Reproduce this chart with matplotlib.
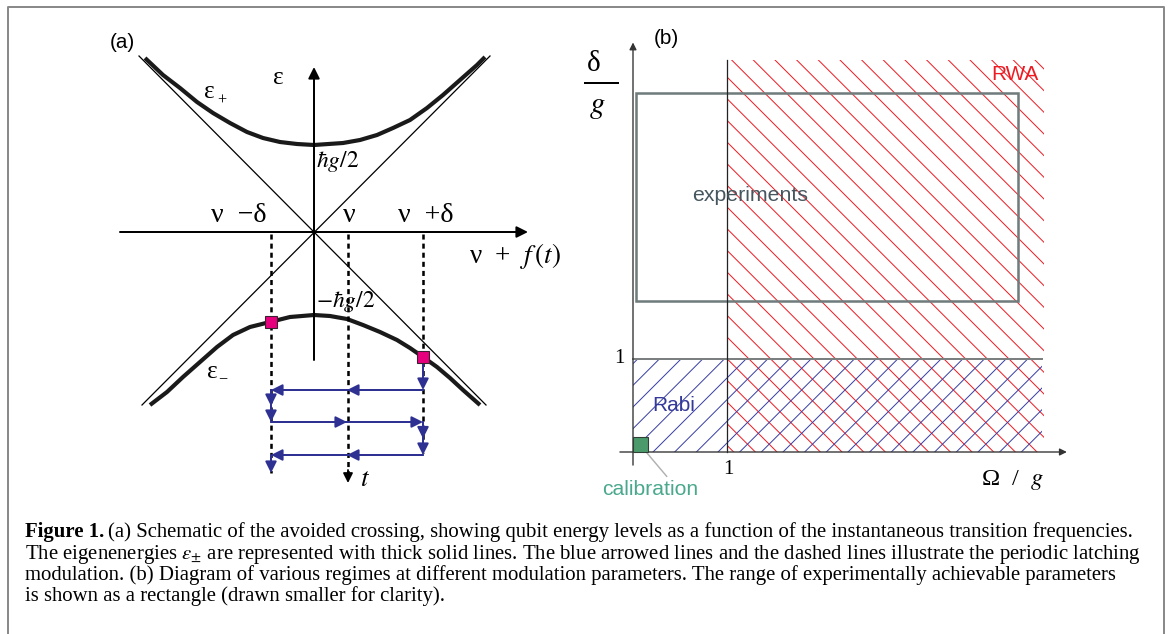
import numpy as np
import matplotlib.pyplot as plt
from matplotlib.lines import Line2D
from matplotlib.patches import Rectangle

plt.rcParams['mathtext.fontset'] = 'stix'
plt.rcParams['hatch.linewidth'] = 0.55

W, H, DPI = 1168, 634, 130
SERIF = 'Liberation Serif'
SANS = 'Liberation Sans'

# ---------------- panel (a): energy levels (arbitrary units, crossing at 0,0)
up_x = [-169, -151, -134, -117, -101, -84, -67, -51, -34, -17, 0,
        29, 46, 63, 79, 96, 113, 129, 146, 163, 171]
up_e = [174, 157, 144, 130, 119, 109, 100, 94, 90, 88, 87,
        89, 92, 97, 104, 112, 124, 137, 152, 167, 175]
lo_x = [-164, -147, -131, -114, -97, -81, -64, -44, -24, 0,
        16, 33, 49, 66, 83, 96, 109, 123, 136, 149, 166]
lo_e = [-173, -160, -145, -130, -115, -103, -95, -90, -85, -83,
        -84, -87, -93, -100, -108, -116, -125, -135, -146, -158, -173]
asym_a = ([-175, 172], [176, -173])
asym_b = ([-172, 176], [-173, 176])
freqs = [-43, 34, 109]            # nu - delta, nu, nu + delta
freq_labels = ['ν  −δ', 'ν', 'ν  +δ']
dash_end = [-241, -241, -221]
latch_x = [-43, 109]
latch_e = [-90, -125]
path_x = [109, 109, -43, -43, 109, 109, -43, -43]
path_y = [-125, -158, -158, -190, -190, -223, -223, -241]
mid_heads = [False, True, True, True, True, True, False]

# ---------------- panel (b): regimes in (Omega/g, delta/g)
rwa_region = (1.0, 0.0, 4.4, 4.19)      # x0, y0, x1, y1
rabi_region = (0.0, 0.0, 4.37, 1.0)
exp_region = (0.03, 1.62, 4.12, 3.84)
calib_size = 0.16

caption = [
    "(a) Schematic of the avoided crossing, showing qubit energy levels as a function of the instantaneous transition frequencies.",
    "The eigenenergies $\\epsilon_{\\pm}$ are represented with thick solid lines. The blue arrowed lines and the dashed lines illustrate the periodic latching",
    "modulation. (b) Diagram of various regimes at different modulation parameters. The range of experimentally achievable parameters",
    "is shown as a rectangle (drawn smaller for clarity).",
]

BLUE = '#2e3192'
RED = '#ed1c24'


def arrow(ax, p0, p1, color, lw, ms):
    ax.annotate('', xy=p1, xytext=p0,
                arrowprops=dict(arrowstyle='-|>', color=color, lw=lw,
                                mutation_scale=ms, shrinkA=0, shrinkB=0))


fig = plt.figure(figsize=(W / DPI, H / DPI), dpi=DPI)

# frame around the figure
fig.add_artist(Line2D([8.3 / W, 8.3 / W, 1164 / W, 1164 / W],
                      [0, 1 - 6.7 / H, 1 - 6.7 / H, 0],
                      transform=fig.transFigure, color='#8a8a8a', lw=1.1))

# ---------------- panel (a)
ax = fig.add_axes([90 / W, 1 - 500 / H, 480 / W, 480 / H])
ax.set_xlim(90 - 314, 570 - 314)
ax.set_ylim(232 - 500, 232 - 20)
ax.axis('off')

ax.plot(*asym_a, color='k', lw=0.7)
ax.plot(*asym_b, color='k', lw=0.7)
arrow(ax, (-194, 0), (214, 0), 'k', 1.1, 13)
arrow(ax, (0, -128), (0, 165), 'k', 1.1, 13)
ax.plot(up_x, up_e, color='#1a1a1a', lw=2.3, solid_capstyle='butt',
        solid_joinstyle='round')
ax.plot(lo_x, lo_e, color='#1a1a1a', lw=2.3, solid_capstyle='butt',
        solid_joinstyle='round')

for f, end in zip(freqs, dash_end):
    ax.plot([f, f], [-2, end], color='k', lw=1.4, ls=(0, (2, 1.6)))
for lab, lx in zip(freq_labels, [-75, 35, 112]):
    ax.text(lx, 17, lab, family=SERIF, fontsize=15.5, ha='center', va='center')
arrow(ax, (freqs[1], -238), (freqs[1], -251), 'k', 1.0, 11)

for i in range(len(path_x) - 1):
    p0 = (path_x[i], path_y[i])
    p1 = (path_x[i + 1], path_y[i + 1])
    if mid_heads[i]:
        arrow(ax, p0, ((p0[0] + p1[0]) / 2, (p0[1] + p1[1]) / 2), BLUE, 1.1, 13)
    arrow(ax, p0, p1, BLUE, 1.1, 13)

ax.plot(latch_x, latch_e, ls='none', marker='s', ms=6.5, mfc='#e6007e',
        mec='#3a2030', mew=0.6, zorder=5)

ax.text(-192, 189, '(a)', family=SANS, fontsize=11.5, ha='center', va='center')
ax.text(-36, 154, 'ε', family=SERIF, fontsize=14, ha='center', va='center')
ax.text(-105, 140, 'ε', family=SERIF, fontsize=14, ha='center', va='center')
ax.text(-92, 131, '+', family=SERIF, fontsize=9, ha='center', va='center')
ax.text(-102, -140, 'ε', family=SERIF, fontsize=14, ha='center', va='center')
ax.text(-91, -148, '−', family=SERIF, fontsize=9, ha='center', va='center')
ax.text(2, 71, '$\\hbar g/2$', fontsize=13, ha='left', va='center')
ax.text(2, -69, '$-\\hbar g/2$', fontsize=13, ha='left', va='center')
ax.text(201, -24, 'ν  +  $f\\,(t)$', family=SERIF, fontsize=15, ha='center',
        va='center')
ax.text(51, -247, '$t$', fontsize=15, ha='center', va='center')

# ---------------- panel (b)
s = 93.5
bx = fig.add_axes([570 / W, 1 - 510 / H, 530 / W, 485 / H])
bx.set_xlim((570 - 633) / s, (1100 - 633) / s)
bx.set_ylim((452 - 510) / s, (452 - 25) / s)
bx.axis('off')

x0, y0, x1, y1 = rwa_region
bx.add_patch(Rectangle((x0, y0), x1 - x0, y1 - y0, fill=False, lw=0,
                       edgecolor=RED, hatch='\\\\'))
x0, y0, x1, y1 = rabi_region
bx.add_patch(Rectangle((x0, y0), x1 - x0, y1 - y0, fill=False, lw=0,
                       edgecolor='#3b3fa5', hatch='//'))
bx.plot([x0, x1], [y1, y1], color='#7a7f80', lw=1.1)
bx.plot([rwa_region[0]] * 2, [0, rwa_region[3]], color='#222222', lw=0.7)
x0, y0, x1, y1 = exp_region
bx.add_patch(Rectangle((x0, y0), x1 - x0, y1 - y0, fill=False, lw=1.4,
                       edgecolor='#707c7c'))
bx.add_patch(Rectangle((0, 0), calib_size, calib_size, facecolor='#4b9a6c',
                       edgecolor='#2f3f35', lw=0.6, zorder=4))

arrow(bx, (-0.14, 0), (4.64, 0), '#333333', 0.75, 8)
arrow(bx, (0, -0.14), (0, 4.38), '#333333', 0.75, 8)

bx.plot([0.36, 0.09], [-0.26, 0.06], color='#b0b0b0', lw=0.8)
bx.text(0.18, -0.40, 'calibration', family=SANS, fontsize=11.7,
        color='#4aa88c', ha='center', va='center')
bx.text(4.09, 4.04, 'RWA', family=SANS, fontsize=11.5, color=RED,
        ha='center', va='center')
bx.text(1.25, 2.74, 'experiments', family=SANS, fontsize=11.8,
        color='#46565e', ha='center', va='center')
bx.text(0.44, 0.50, 'Rabi', family=SANS, fontsize=11.6, color='#353a9a',
        ha='center', va='center')
bx.text(0.36, 4.42, '(b)', family=SANS, fontsize=11.5, ha='center', va='center')
bx.text(-0.15, 1.0, '1', family=SERIF, fontsize=11.5, ha='center', va='center')
bx.text(1.02, -0.19, '1', family=SERIF, fontsize=11.5, ha='center', va='center')
bx.text(4.06, -0.30, 'Ω  /  $g$', family=SERIF, fontsize=13.5, ha='center',
        va='center')
bx.text(-0.42, 4.15, 'δ', family=SERIF, fontsize=16, ha='center', va='center')
bx.plot([-0.51, -0.16], [3.95, 3.95], color='k', lw=1.1)
bx.text(-0.385, 3.70, '$g$', fontsize=17, ha='center', va='center')

# ---------------- caption
base = [537, 558.5, 580, 601]
cap_fs = 11.5
t0 = fig.text(25 / W, 1 - base[0] / H, 'Figure 1.', family=SERIF,
              weight='bold', fontsize=cap_fs, va='baseline')
r = fig.canvas.get_renderer()
bb = t0.get_window_extent(r)
fig.text(bb.x1 / W + 4 / W, 1 - base[0] / H, caption[0], family=SERIF,
         fontsize=cap_fs, va='baseline')
for line, yb in zip(caption[1:], base[1:]):
    fig.text(25 / W, 1 - yb / H, line, family=SERIF, fontsize=cap_fs,
             va='baseline')

fig.savefig('out.png', dpi=DPI)
